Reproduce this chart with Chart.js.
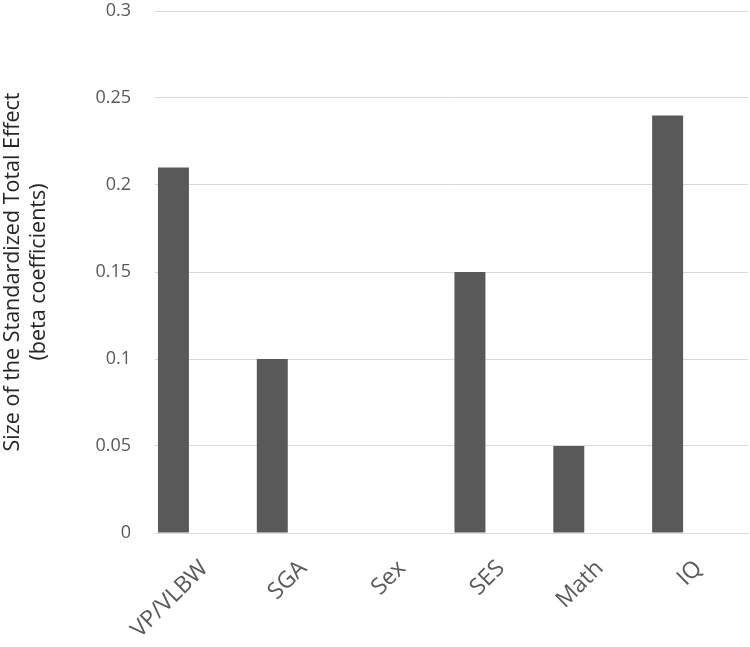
<!DOCTYPE html>
<html>
<head>
<meta charset="utf-8">
<script src="https://cdn.jsdelivr.net/npm/chart.js@4"></script>
<style>
  html, body { margin: 0; padding: 0; background: #fff; }
  #wrap { width: 750px; height: 647px; }
</style>
</head>
<body>
<div id="wrap"><canvas id="chart" width="750" height="647"></canvas></div>
<script>
const categories = ['VP/VLBW', 'SGA', 'Sex', 'SES', 'Math', 'IQ'];
const totalEffect = [0.21, 0.10, 0, 0.15, 0.05, 0.24];
// the original chart keeps two more (empty) series beside each bar
const emptySeries = [null, null, null, null, null, null];
const yTicks = [0, 0.05, 0.1, 0.15, 0.2, 0.25, 0.3];

const FONT = "'Open Sans', 'Liberation Sans', sans-serif";

const ctx = document.getElementById('chart').getContext('2d');
new Chart(ctx, {
  type: 'bar',
  data: {
    labels: categories,
    datasets: [
      { label: 'Total effect', data: totalEffect, backgroundColor: '#595959' },
      { label: 'empty 1', data: emptySeries, backgroundColor: '#595959' },
      { label: 'empty 2', data: emptySeries, backgroundColor: '#595959' }
    ]
  },
  options: {
    responsive: false,
    animation: false,
    layout: { padding: { top: 11, right: 2, left: 0, bottom: 0 } },
    datasets: {
      bar: { categoryPercentage: 0.94, barPercentage: 1.0 }
    },
    scales: {
      x: {
        grid: { display: false },
        border: { color: '#d9d9d9', width: 1 },
        ticks: {
          color: '#595959',
          font: { family: FONT, size: 23 },
          minRotation: 45,
          maxRotation: 45,
          padding: 14
        },
        afterFit: (scale) => {
          scale.height = 114;
          scale.paddingLeft = 0;
          scale.paddingRight = 0;
        }
      },
      y: {
        min: 0,
        max: 0.3,
        afterBuildTicks: (scale) => { scale.ticks = yTicks.map(v => ({ value: v })); },
        grid: { color: '#d9d9d9', lineWidth: 1, drawTicks: false },
        border: { display: false },
        ticks: {
          color: '#595959',
          font: { family: FONT, size: 18 },
          padding: 24,
          callback: (v) => String(v)
        },
        title: {
          display: true,
          text: ['Size of the Standardized Total Effect', '(beta coefficients)'],
          color: '#262626',
          font: { family: FONT, size: 21.5 },
          padding: { top: 0, bottom: 6 }
        },
        afterFit: (scale) => {
          scale.width = 155;
          scale.paddingTop = 0;
          scale.paddingBottom = 0;
        }
      }
    },
    plugins: {
      legend: { display: false },
      tooltip: { enabled: false }
    }
  }
});
</script>
</body>
</html>
